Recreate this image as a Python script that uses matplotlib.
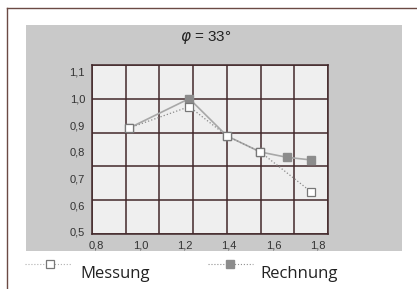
import numpy as np
import matplotlib.pyplot as plt
from matplotlib.patches import Rectangle
from matplotlib.lines import Line2D
from matplotlib import font_manager

# data
mess_x = [0.95, 1.22, 1.39, 1.54, 1.77]
mess_y = [0.89, 0.97, 0.86, 0.80, 0.65]
rech_x = [0.95, 1.22, 1.39, 1.54, 1.66, 1.77]
rech_y = [0.89, 1.00, 0.86, 0.80, 0.78, 0.77]

xticks = [0.8, 1.0, 1.2, 1.4, 1.6, 1.8]
xlabels = ['0,8', '1,0', '1,2', '1,4', '1,6', '1,8']
yticks = [0.5, 0.6, 0.7, 0.8, 0.9, 1.0, 1.1]
ylabels = ['0,5', '0,6', '0,7', '0,8', '0,9', '1,0', '1,1']
series_names = ['Messung', 'Rechnung']

xlim = (0.782, 1.845)
ylim = (0.4925, 1.126)

# narrow font for the legend if there is one
names = {f.name for f in font_manager.fontManager.ttflist}
if 'Liberation Sans Narrow' in names:
    leg_font, leg_size = 'Liberation Sans Narrow', 13
else:
    leg_font, leg_size = 'Open Sans', 12

W, H = 417, 289
fig = plt.figure(figsize=(W / 100, H / 100), dpi=100)
fig.patch.set_facecolor('white')

# frame lines (top and left)
fig.add_artist(Line2D([7 / W, 7 / W], [0, 1 - 8 / H], color='#6b4a44', lw=1.0))
fig.add_artist(Line2D([7 / W, 1], [1 - 8 / H, 1 - 8 / H], color='#6b4a44', lw=1.0))

# gray panel
fig.add_artist(Rectangle((26 / W, 1 - 251 / H), (402 - 26) / W, (251 - 25) / H,
                         transform=fig.transFigure, facecolor='#c9c9c9',
                         edgecolor='none', zorder=0))

fig.text(206 / W, 1 - 38 / H, r'$\varphi$ = 33°', ha='center', va='center',
         fontsize=11, color='#222222', family='Liberation Sans')

ax = fig.add_axes([92 / W, 1 - 234 / H, (328 - 92) / W, (234 - 65) / H])
ax.set_facecolor('#efefef')
ax.set_xlim(*xlim)
ax.set_ylim(*ylim)

ax.set_xticks(xticks)
ax.set_xticklabels(xlabels)
ax.set_yticks(yticks)
ax.set_yticklabels(ylabels)
ax.tick_params(which='major', length=0, labelsize=8, labelcolor='#333333', pad=5)
for lab in ax.get_xticklabels() + ax.get_yticklabels():
    lab.set_family('Liberation Sans')

# grid lines (7 columns, 5 rows), not aligned with the labels
ax.set_xticks(np.linspace(xlim[0], xlim[1], 8), minor=True)
ax.set_yticks(np.linspace(ylim[0], ylim[1], 6), minor=True)
ax.tick_params(which='minor', length=0)
ax.grid(which='minor', color='#42282a', lw=1.1)
ax.set_axisbelow(True)
for s in ax.spines.values():
    s.set_color('#42282a')
    s.set_linewidth(1.1)

ax.plot(rech_x, rech_y, color='#a8a8a8', lw=1.2, marker='s', ms=5.5,
        mfc='#8c8c8c', mec='#8c8c8c', label=series_names[1], zorder=3)
ax.plot(mess_x, mess_y, color='#8a8a8a', lw=0.9, ls=':', marker='s', ms=6,
        mfc='white', mec='#777777', mew=0.9, label=series_names[0], zorder=4)

# legend below the panel, drawn by hand
ly = 1 - 264 / H
fig.add_artist(Line2D([25 / W, 72 / W], [ly, ly], color='#b0b0b0', lw=0.8, ls=':'))
fig.add_artist(Line2D([50 / W], [ly], ls='none', marker='s', ms=6,
                      mfc='white', mec='#777777', mew=0.9))
fig.add_artist(Line2D([208 / W, 253 / W], [ly, ly], color='#909090', lw=0.8, ls=':'))
fig.add_artist(Line2D([230 / W], [ly], ls='none', marker='s', ms=5.5,
                      mfc='#8c8c8c', mec='#8c8c8c'))
for x0, name in zip([80, 260], series_names):
    fig.text(x0 / W, 1 - 278 / H, name, ha='left', va='baseline',
             fontsize=leg_size, color='#222222', family=[leg_font, 'DejaVu Sans'])

fig.savefig('out.png', dpi=100)
